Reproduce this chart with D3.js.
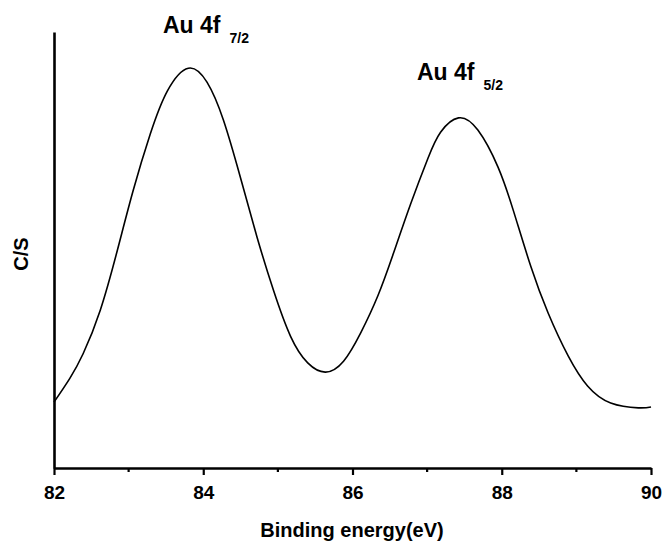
<!DOCTYPE html>
<html><head><meta charset="utf-8">
<script src="https://cdn.jsdelivr.net/npm/d3@7"></script>
<style>body{margin:0;background:#fff}svg{display:block}text{font-family:"Liberation Sans",Arial,sans-serif;font-weight:bold}</style>
</head><body>
<svg id="c" width="662" height="541"></svg>
<script>
// Binding energy (eV) and intensity (C/S, arbitrary units)
const energy = [82.0, 82.21, 82.39, 82.62, 82.85, 83.06, 83.29, 83.52, 83.8, 84.05, 84.27, 84.5, 84.72, 84.94, 85.17, 85.4, 85.64, 85.88, 86.11, 86.34, 86.55, 86.78, 87.01, 87.18, 87.42, 87.68, 87.95, 88.16, 88.39, 88.62, 88.89, 89.15, 89.46, 89.83, 90.0];
const counts = [151, 205, 262, 362, 500, 636, 766, 865, 917, 885, 798, 665, 530, 408, 302, 241, 220, 245, 310, 395, 493, 606, 710, 770, 803, 775, 690, 588, 462, 356, 257, 188, 149, 138, 140];
const xTicks = [82, 84, 86, 88, 90];
const xMinor = [83, 85, 87, 89];
const peaks = [{name: "Au 4f", sub: "7/2"}, {name: "Au 4f", sub: "5/2"}];

const svg = d3.select("#c");
const L = 54, R = 651, T = 32, B = 468;
const x = d3.scaleLinear().domain([82, 90]).range([L, R]);
const y = d3.scaleLinear().domain([0, 1000]).range([B, T]);

// curve
const line = d3.line().x(d => x(d[0])).y(d => y(d[1])).curve(d3.curveNatural);
svg.append("path").datum(energy.map((e, i) => [e, counts[i]]))
  .attr("d", line).attr("fill", "none").attr("stroke", "#000").attr("stroke-width", 1.6);

// x axis
const gx = svg.append("g").attr("transform", `translate(0,${B})`);
gx.call(d3.axisBottom(x).tickValues(xTicks).tickSize(7).tickSizeOuter(0).tickPadding(11).tickFormat(d3.format("d")));
gx.select(".domain").attr("stroke-width", 2.6);
gx.selectAll(".tick line").attr("stroke-width", 2.2);
gx.selectAll(".tick text").attr("font-size", 19).attr("font-family", "Liberation Sans, Arial, sans-serif").attr("font-weight", "bold").attr("fill", "#000");
gx.selectAll(".minor").data(xMinor).enter().append("line")
  .attr("x1", d => x(d)).attr("x2", d => x(d)).attr("y1", 0).attr("y2", 4)
  .attr("stroke", "#000").attr("stroke-width", 2.2);

// y axis (no ticks)
const gy = svg.append("g").attr("transform", `translate(${L},0)`);
gy.call(d3.axisLeft(y).tickValues([]).tickSizeOuter(0));
gy.select(".domain").attr("stroke-width", 2.6);

// axis titles
svg.append("text").attr("x", 352).attr("y", 537).attr("text-anchor", "middle")
  .attr("font-size", 20).text("Binding energy(eV)");
svg.append("text").attr("transform", "translate(28,254) rotate(-90)").attr("text-anchor", "middle")
  .attr("font-size", 20).text("C/S");

// peak labels
const labelPos = [[163, 33], [417, 80]];
peaks.forEach((p, i) => {
  const t = svg.append("text").attr("x", labelPos[i][0]).attr("y", labelPos[i][1]).attr("font-size", 23);
  t.append("tspan").text(p.name);
  t.append("tspan").attr("font-size", 14).attr("dx", 9).attr("dy", 10).text(p.sub);
});
</script>
</body></html>
